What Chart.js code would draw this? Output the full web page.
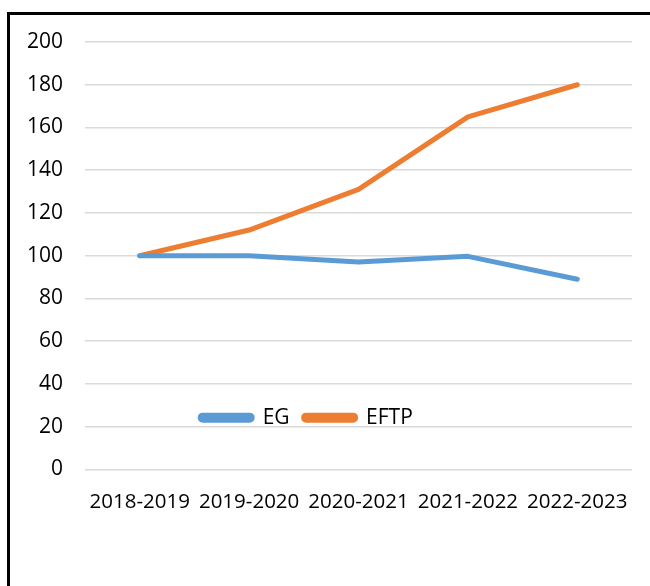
<!DOCTYPE html>
<html>
<head>
<meta charset="utf-8">
<script src="https://cdn.jsdelivr.net/npm/chart.js@4/dist/chart.umd.min.js"></script>
<style>
    html, body { margin: 0; padding: 0; background: #fff; overflow: hidden; }
    #wrap { position: relative; width: 650px; height: 586px; }
    #frame {
        position: absolute; left: 7px; top: 12px; width: 700px; height: 650px;
        border: 3px solid #000; box-sizing: border-box;
    }
    #chart { position: absolute; left: 0; top: 0; }
</style>
</head>
<body>
<div id="wrap">
    <div id="frame"></div>
    <canvas id="chart" width="650" height="586"></canvas>
</div>
<script>
const years = ["2018-2019", "2019-2020", "2020-2021", "2021-2022", "2022-2023"];
const egValues = [100, 100, 97, 99.7, 89];
const eftpValues = [100, 112, 131, 165, 180];
const yTicks = [0, 20, 40, 60, 80, 100, 120, 140, 160, 180, 200];

const font = { family: "'Open Sans', sans-serif", size: 21 };
const xFont = { family: "'Open Sans', sans-serif", size: 20.5 };

// the legend sits inside the plot, just above the 20 gridline
const moveLegend = {
    id: "moveLegend",
    afterLayout(chart) {
        const lg = chart.legend;
        const h = lg.bottom - lg.top;
        const y = chart.scales.y.getPixelForValue(20) - 11;
        lg.top = y - h / 2;
        lg.bottom = y + h / 2;
        lg.left -= 12;
        lg.right -= 12;
    }
};

new Chart(document.getElementById("chart"), {
    type: "line",
    data: {
        labels: years,
        datasets: [{
            label: "EG",
            data: egValues,
            borderColor: "#5B9BD5",
            backgroundColor: "#5B9BD5"
        }, {
            label: "EFTP",
            data: eftpValues,
            borderColor: "#ED7D31",
            backgroundColor: "#ED7D31"
        }]
    },
    options: {
        responsive: false,
        animation: false,
        layout: { padding: { left: 5, right: 18, top: 42, bottom: 7 } },
        elements: {
            line: { borderWidth: 5, tension: 0, borderCapStyle: "round", borderJoinStyle: "round" },
            point: { radius: 0 }
        },
        scales: {
            x: {
                offset: true,
                grid: { display: false, drawTicks: false },
                border: { display: false },
                ticks: { font: xFont, color: "#000", padding: 20, autoSkip: false, maxRotation: 0 }
            },
            y: {
                min: 0,
                max: 200,
                afterBuildTicks(axis) { axis.ticks = yTicks.map(v => ({ value: v })); },
                grid: { color: "#D9D9D9", lineWidth: 1.5, drawTicks: false },
                border: { display: false },
                ticks: { font: font, color: "#000", padding: 22 }
            }
        },
        plugins: {
            legend: {
                position: "bottom",
                labels: {
                    font: font,
                    color: "#000",
                    boxWidth: 52,
                    boxHeight: 5,
                    useBorderRadius: true,
                    borderRadius: 2.5,
                    padding: 14
                }
            },
            tooltip: { enabled: false }
        }
    },
    plugins: [moveLegend]
});
</script>
</body>
</html>
